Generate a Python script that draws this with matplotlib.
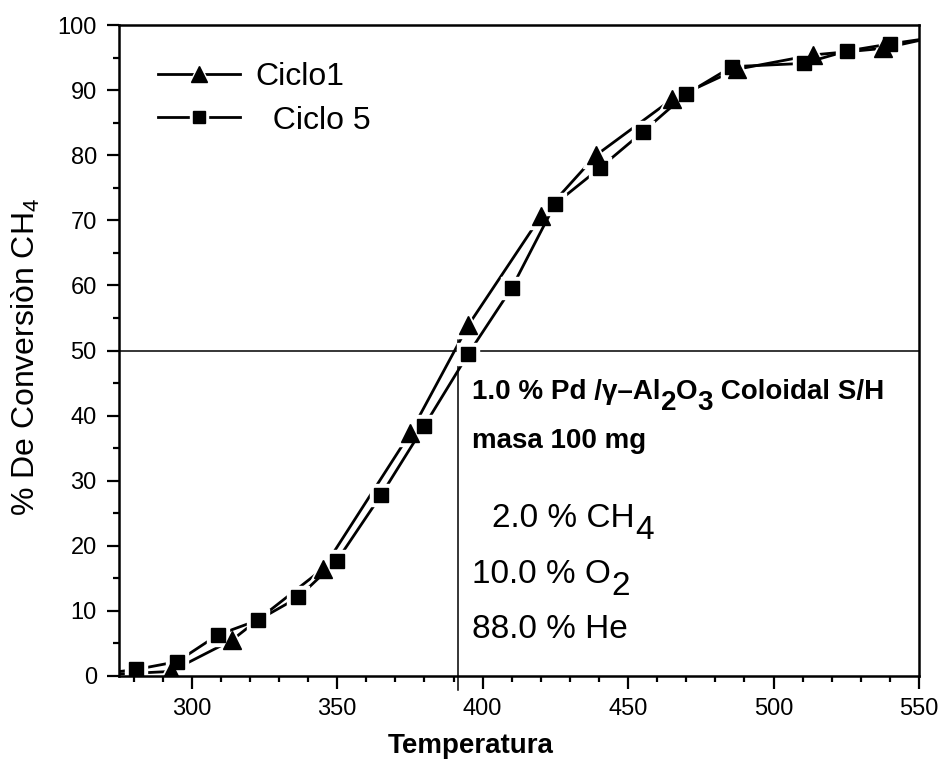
import matplotlib
matplotlib.use("Agg")
import matplotlib.pyplot as plt
from matplotlib.ticker import MultipleLocator

plt.rcParams["font.family"] = ["Liberation Sans", "DejaVu Sans"]
plt.rcParams["mathtext.fontset"] = "custom"
plt.rcParams["mathtext.rm"] = "Liberation Sans"

# Ciclo 1 (triangles); first/last points fall outside the axes and are clipped
t_c1 = [270, 292.8, 313.8, 345.2, 375.1, 395.1, 420.0, 439.0, 465.1, 487.4, 513.5, 537.6, 560]
x_c1 = [0.2, 0.7, 5.5, 16.5, 37.3, 53.9, 70.6, 80.0, 88.6, 93.2, 95.4, 96.4, 98.6]
# Ciclo 5 (squares)
t_c5 = [270, 280.8, 295.0, 308.9, 322.9, 336.7, 349.9, 365.1, 379.9, 395.1, 410.0,
        424.9, 440.2, 455.1, 470.0, 485.7, 510.3, 525.2, 540.1, 560]
x_c5 = [0.4, 1.0, 2.2, 6.3, 8.6, 12.1, 17.7, 27.8, 38.4, 49.5, 59.6,
        72.5, 78.0, 83.6, 89.4, 93.6, 94.1, 96.0, 97.1, 98.4]

t50 = 391.6  # temperature at 50 % conversion

fig = plt.figure(figsize=(9.41, 7.67), dpi=100)
ax = fig.add_axes([119 / 941, 1 - 676 / 767, 800 / 941, 651 / 767])

series = [(t_c1, x_c1, "^", 13, "Ciclo1"), (t_c5, x_c5, "s", 9.5, "  Ciclo 5")]
handles, labels = [], []
for t, x, mk, ms, lab in series:
    # line with white masks around the symbols (gap to symbol)
    ln, = ax.plot(t, x, color="black", lw=2, marker=mk, ms=ms + 6,
                  mfc="white", mec="white", zorder=2)
    handles.append(ln)
    labels.append(lab)
for i, (t, x, mk, ms, lab) in enumerate(series):
    mkr, = ax.plot(t, x, ls="none", marker=mk, ms=ms, color="black", zorder=3)
    handles[i] = (handles[i], mkr)

ax.axhline(50, color="black", lw=1.1, zorder=1)
ax.plot([t50, t50], [51.6, -2.2], color="black", lw=1.1, clip_on=False, zorder=1)

ax.set_xlim(275, 550)
ax.set_ylim(0, 100)
ax.xaxis.set_major_locator(MultipleLocator(50))
ax.xaxis.set_minor_locator(MultipleLocator(10))
ax.yaxis.set_major_locator(MultipleLocator(10))
ax.yaxis.set_minor_locator(MultipleLocator(5))
ax.tick_params(which="major", direction="out", length=9, width=1.6, labelsize=17)
ax.tick_params(which="minor", direction="out", length=4.5, width=1.6)
ax.tick_params(axis="x", which="major", pad=7)
ax.tick_params(axis="y", which="major", pad=7)
for s in ax.spines.values():
    s.set_linewidth(1.8)

ax.set_xlabel("Temperatura", fontsize=20, fontweight="bold")
ax.xaxis.set_label_coords(0.439, -0.088)
ax.set_ylabel("% De Conversiòn CH$_4$", fontsize=23)
ax.yaxis.set_label_coords(-0.096, 0.49)

leg = ax.legend(handles, labels, loc="upper left", bbox_to_anchor=(0.049, 0.943),
                frameon=False, fontsize=23, handlelength=2.57, handletextpad=0.47,
                labelspacing=0.42, borderpad=0, borderaxespad=0, markerscale=0.85)


def chain(x, y, parts, size, weight="normal", drop=8.5):
    """Write text pieces one after another; (text, True) pieces are lowered subscripts."""
    main = ax.text(x, y, parts[0][0], fontsize=size, fontweight=weight, va="baseline")
    prev = main
    for s, sub in parts[1:]:
        prev = ax.annotate(s, xy=(1, 0), xycoords=(prev, main),
                           xytext=(0, -drop if sub else 0), textcoords="offset points",
                           fontsize=size, fontweight=weight, va="bottom", ha="left")


chain(396.4, 42.5, [("1.0 % Pd /γ–Al", False), ("2", True), ("O", False), ("3", True),
                    (" Coloidal S/H", False)], 20, "bold", drop=8)
ax.text(396.4, 35.0, "masa 100 mg", fontsize=20, fontweight="bold", va="baseline")
chain(403.3, 22.9, [("2.0 % CH", False), ("4", True)], 24, drop=9)
chain(396.4, 14.3, [("10.0 % O", False), ("2", True)], 24, drop=9)
ax.text(396.4, 5.8, "88.0 % He", fontsize=24, va="baseline")

fig.savefig("out.png", dpi=100)
